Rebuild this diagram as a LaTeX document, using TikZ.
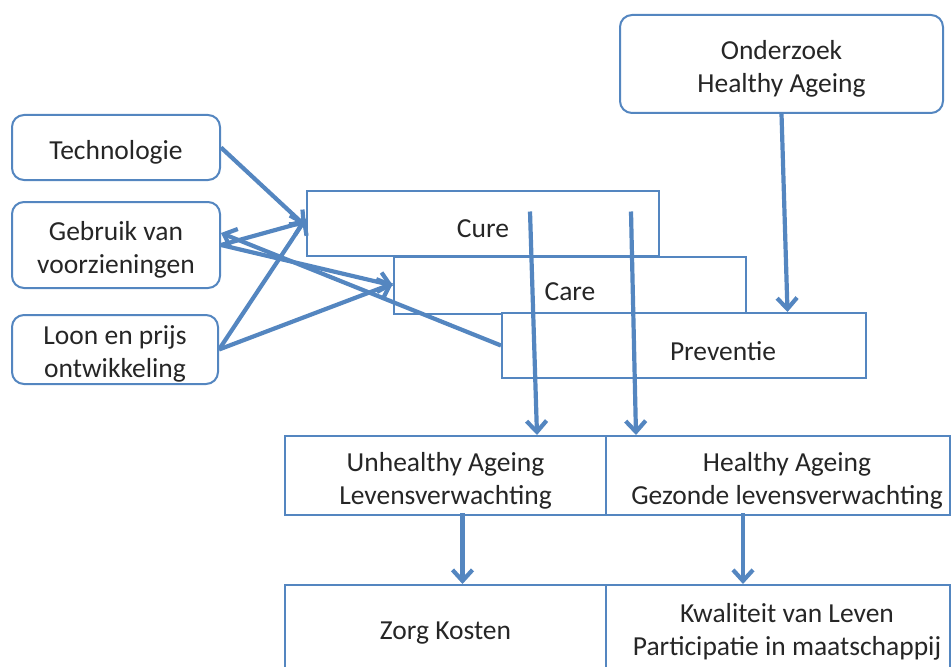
\documentclass[tikz,border=0pt]{standalone}
\usepackage{fontspec}
\setmainfont{Carlito}
\usetikzlibrary{arrows.meta,calc}
\definecolor{bl}{RGB}{84,134,192}
\tikzset{
  txt/.style={font=\fontsize{27.5}{33}\selectfont,text=black!85},
  rbox/.style={draw=bl,line width=2pt,rounded corners=12pt,fill=white,inner sep=0pt,align=center,txt},
  sbox/.style={draw=bl,line width=2pt,fill=white,inner sep=0pt,align=center,txt},
  arr/.style={draw=bl,line width=4.2pt,-{Straight Barb[length=11pt,width=20pt,line width=4.2pt]}}
}
\begin{document}
\begin{tikzpicture}[x=1pt,y=-1pt]
\useasboundingbox (0,0) rectangle (952,666);
% left boxes
\node[rbox,minimum width=208pt,minimum height=65pt] (tech) at (116,147.5) {};
\node[txt] (techt) at (116,152) {Technologie};
\node[rbox,minimum width=208pt,minimum height=86pt] (gebr) at (116,245) {};
\node[txt,align=center] (gebrt) at (116,250) {Gebruik van\\voorzieningen};
\node[rbox,minimum width=206pt,minimum height=69pt] (loon) at (115,349.5) {};
\node[txt,align=center] (loont) at (115,354) {Loon en prijs\\ontwikkeling};
\node[rbox,minimum width=323pt,minimum height=98pt] (onder) at (781.5,64) {};
\node[txt,align=center] (ondert) at (781.5,69) {Onderzoek\\Healthy Ageing};
% stacked boxes
\node[sbox,minimum width=352pt,minimum height=65pt] (cure) at (483,223.5) {};
\node[txt] (curet) at (483,229) {Cure};
\node[sbox,minimum width=352pt,minimum height=57pt] (care) at (570,285.5) {};
\node[txt] (caret) at (570,292) {Care};
\node[sbox,minimum width=364pt,minimum height=65pt] (prev) at (684,345.5) {};
\node[txt] (prevt) at (723,351) {Preventie};
% bottom boxes
\node[sbox,minimum width=321pt,minimum height=79pt] (unh) at (445.5,475.5) {};
\node[txt,align=center] (unht) at (445.5,481) {Unhealthy Ageing\\Levensverwachting};
\node[sbox,minimum width=344pt,minimum height=79pt] (hea) at (778,475.5) {};
\node[txt,align=center] (heat) at (787,481) {Healthy Ageing\\Gezonde levensverwachting};
\node[sbox,minimum width=321pt,minimum height=90pt] (zorg) at (445.5,630) {};
\node[txt] (zorgt) at (445.5,633) {Zorg Kosten};
\node[sbox,minimum width=344pt,minimum height=90pt] (kwal) at (778,630) {};
\node[txt,align=center] (kwalt) at (787,632) {Kwaliteit van Leven\\Participatie in maatschappij};
% arrows left
\draw[arr] (tech.east) -- ([yshift=-3pt]cure.west);
\draw[arr] (gebr.east) -- ([yshift=2pt]cure.west);
\draw[arr] (gebr.east) -- ([yshift=0pt]care.west);
\draw[arr] (prev.west) -- ([yshift=12pt]gebr.east);
\draw[arr] (loon.east) -- ([yshift=5pt]cure.west);
\draw[arr] (loon.east) -- ([yshift=2pt]care.west);
% vertical arrows
\draw[arr] ([xshift=47pt,yshift=12pt]cure.center) -- ([xshift=91.5pt]unh.north);
\draw[arr] ([xshift=148pt,yshift=12pt]cure.center) -- ([xshift=-142pt]hea.north);
\draw[arr] (onder.south) -- ([xshift=103.5pt]prev.north);
\draw[arr] ([xshift=17pt,yshift=3pt]unh.south) -- ([xshift=17pt]zorg.north);
\draw[arr] ([xshift=-35pt,yshift=3pt]hea.south) -- ([xshift=-35pt]kwal.north);
\end{tikzpicture}
\end{document}
